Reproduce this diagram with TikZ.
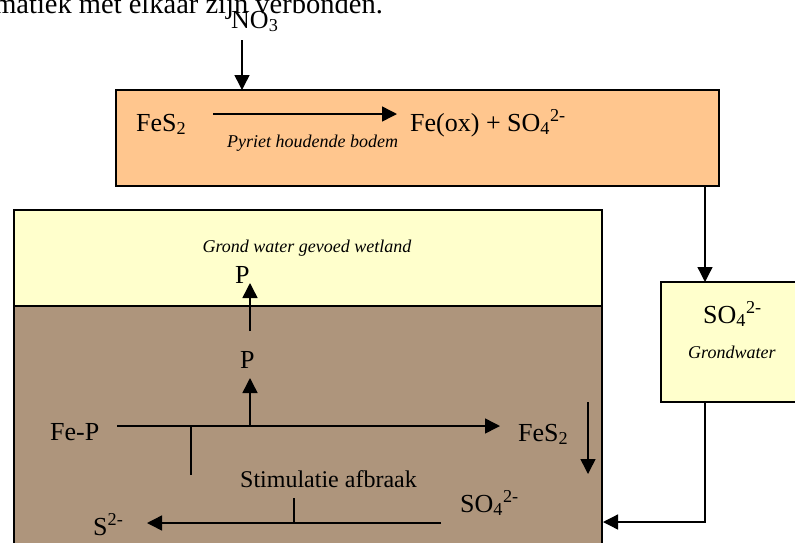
\documentclass[tikz,border=0pt]{standalone}
\usepackage{fontspec}
\setmainfont{Liberation Serif}
\usetikzlibrary{arrows.meta}
\definecolor{orangec}{HTML}{FFC68E}
\definecolor{yellowc}{HTML}{FFFFCC}
\definecolor{brownc}{HTML}{AE957C}
\begin{document}
\begin{tikzpicture}[x=1pt,y=-1pt,
  main/.style={font=\fontsize{26}{30}\selectfont, inner sep=0pt, anchor=base west},
  lab/.style={font=\fontsize{18}{21}\selectfont\itshape, inner sep=0pt, anchor=base west},
  arr/.style={line width=1.5pt, -{Triangle[length=15pt,width=15pt]}},
  plain/.style={line width=1.5pt},
  conn/.style={line width=1.3pt, -{Triangle[length=15pt,width=15pt]}},
  box/.style={draw, line width=1.3pt, inner sep=0pt, outer sep=0pt, anchor=north west}]
\useasboundingbox (0,0) rectangle (795,542);
\clip (0,0) rectangle (795,542);
% top text (cut off)
\node[main, font=\fontsize{28.5}{32}\selectfont, anchor=base east] (toptext) at (383,13) {matiek met elkaar zijn verbonden.};
% boxes
\node[box, fill=orangec, minimum width=603pt, minimum height=96pt] (ox) at (116,90) {};
\node[box, fill=yellowc, minimum width=150pt, minimum height=120pt] (gw) at (661,282) {};
\node[box, fill=yellowc, minimum width=588pt, minimum height=96pt] (wet) at (14,210) {};
\node[box, fill=brownc, minimum width=588pt, minimum height=260pt] (bod) at (14,306) {};
\draw[line width=2pt] (bod.south west) -- (wet.north west) -- (wet.north east) -- (bod.south east);
% texts
\node[main] (no3) at (231,28) {NO\textsubscript{3}};
\node[main] (fes2a) at (136,131) {FeS\textsubscript{2}};
\node[main] (feox) at (410,131) {Fe(ox) + SO\textsubscript{4}\textsuperscript{2-}};
\node[lab] (pyr) at (227,147) {Pyriet houdende bodem};
\node[lab, anchor=base] (gwl) at (307,252) {Grond water gevoed wetland};
\node[main] (p1) at (235,283) {P};
\node[main] (p2) at (240,368) {P};
\node[main] (fep) at (50,440) {Fe-P};
\node[main] (fes2b) at (518,441) {FeS\textsubscript{2}};
\node[main, font=\fontsize{24}{28}\selectfont] (stim) at (240,487) {Stimulatie afbraak};
\node[main] (so4b) at (460,512) {SO\textsubscript{4}\textsuperscript{2-}};
\node[main] (s2) at (93,535) {S\textsuperscript{2-}};
\node[main] (so4g) at (703,323) {SO\textsubscript{4}\textsuperscript{2-}};
\node[lab] (grw) at (688,358) {Grondwater};
% coordinates
\coordinate (n1) at (242,40);
\coordinate (n2) at (242,90);
\coordinate (r1) at (213,114);
\coordinate (r2) at (397,114);
\coordinate (o1) at (705,186);
\coordinate (o2) at (705,282);
\coordinate (g1) at (705,402);
\coordinate (g2) at (705,522);
\coordinate (g3) at (603,522);
\coordinate (u1) at (250,331);
\coordinate (u2) at (250,283);
\coordinate (u3) at (250,426);
\coordinate (u4) at (250,378);
\coordinate (h1) at (117,426);
\coordinate (h2) at (500,426);
\coordinate (t1) at (191,426);
\coordinate (t2) at (191,475);
\coordinate (s1) at (441,523);
\coordinate (s3) at (147,523);
\coordinate (k1) at (294,498);
\coordinate (k2) at (294,523);
\coordinate (d1) at (588,402);
\coordinate (d2) at (588,474);
% connectors
\draw[arr] (n1) -- (n2);
\draw[arr] (r1) -- (r2);
\draw[conn] (o1) -- (o2);
\draw[conn] (g1) -- (g2) -- (g3);
\draw[arr] (u1) -- (u2);
\draw[arr] (u3) -- (u4);
\draw[arr] (h1) -- (h2);
\draw[plain] (t1) -- (t2);
\draw[arr] (s1) -- (s3);
\draw[plain] (k1) -- (k2);
\draw[arr] (d1) -- (d2);
\end{tikzpicture}
\end{document}
